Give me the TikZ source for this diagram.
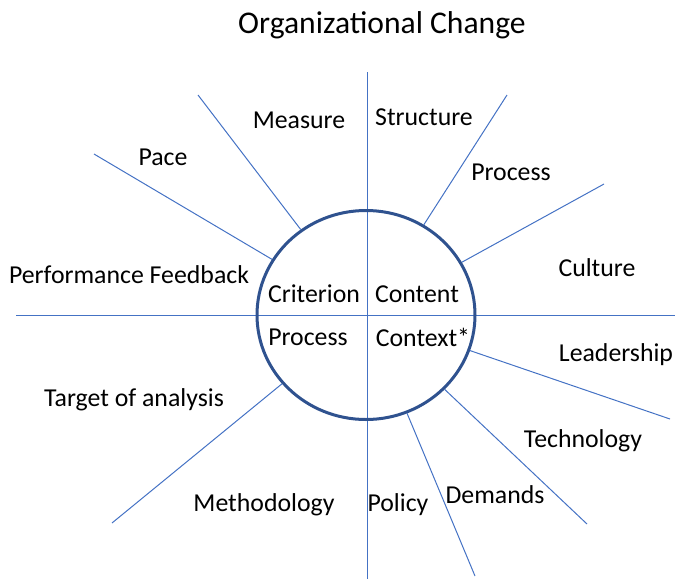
\documentclass[tikz,border=0pt]{standalone}
\usepackage{fontspec}
\setmainfont{Carlito}
\definecolor{spokeblue}{RGB}{68,114,196}
\definecolor{hubblue}{RGB}{47,82,143}
\usetikzlibrary{shapes.geometric}

\begin{document}
\begin{tikzpicture}[x=0.5pt, y=-0.5pt,
  spoke/.style={spokeblue, line width=0.5pt},
  lbl/.style={font=\fontsize{12.9}{15.5}\selectfont, inner sep=0pt}]
  \useasboundingbox (0,0) rectangle (675,579);

  % Title
  \node[font=\fontsize{15.8}{19}\selectfont, inner sep=0pt] (title) at (382,25) {Organizational Change};

  % Axes through the hub
  \coordinate (vtop) at (367.5,72);
  \coordinate (vbot) at (367.5,579);
  \coordinate (hleft) at (16,315.5);
  \coordinate (hright) at (675,315.5);
  \draw[spoke] (vtop) -- (vbot);
  \draw[spoke] (hleft) -- (hright);

  % Hub
  \node[ellipse, draw=hubblue, line width=1.5pt, minimum width=109pt, minimum height=104.5pt,
    inner sep=0pt] (hub) at (366,315) {};

  % Spokes
  \foreach \n/\x/\y in {measure/198/95, structure/507/95, pace/94/154, culture/604/184,
      leadership/670/419, technology/587/524, policy/475/576, methodology/112/523}
    \coordinate (\n) at (\x,\y);
  \foreach \n in {measure, structure, pace, culture, leadership, technology, policy, methodology}
    \draw[spoke] (hub) -- (\n);

  % Quadrants
  \node[lbl] (criterion) at (314,294) {Criterion};
  \node[lbl] (content) at (417,294) {Content};
  \node[lbl] (process) at (308,337) {Process};
  \node[lbl] (context) at (423,337) {Context*};

  % Labels
  \node[lbl] (lmeasure) at (299,120) {Measure};
  \node[lbl] (lstructure) at (424,117) {Structure};
  \node[lbl] (lpace) at (163,157) {Pace};
  \node[lbl] (lprocess) at (511,172) {Process};
  \node[lbl] (lculture) at (597,268) {Culture};
  \node[lbl] (lfeedback) at (129,275) {Performance Feedback};
  \node[lbl] (lleadership) at (616,355) {Leadership};
  \node[lbl] (ltarget) at (134,400) {Target of analysis};
  \node[lbl] (ltechnology) at (583,441) {Technology};
  \node[lbl] (lmethodology) at (264,505) {Methodology};
  \node[lbl] (lpolicy) at (398,505) {Policy};
  \node[lbl] (ldemands) at (495,495) {Demands};
\end{tikzpicture}
\end{document}
